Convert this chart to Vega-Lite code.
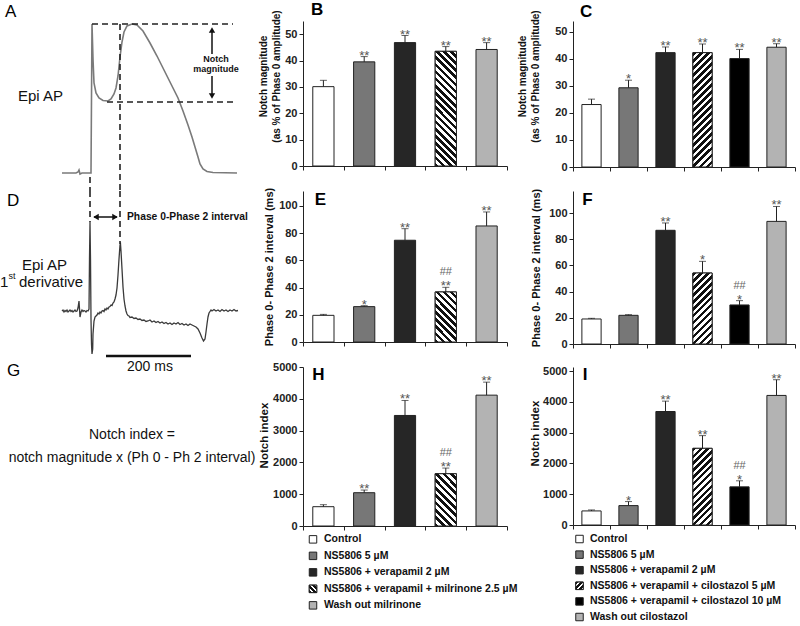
{
"$schema":"https://vega.github.io/schema/vega-lite/v6.json",
"padding":{"left":0,"top":1,"right":0,"bottom":0},
"bounds":"flush",
"align":"each",
"columns":3,
"spacing":{"row":0,"column":66},
"config":{"view":{"stroke":null},"font":"Liberation Sans",
 "axis":{"grid":false,"domainColor":"#222","tickColor":"#222","labelColor":"#222","titleColor":"#111"},
 "axisY":{"tickSize":4,"labelFontSize":11,"labelFontWeight":"bold","labelPadding":2,"titleFontWeight":"bold","titleLineHeight":13},
 "axisX":{"tickSize":4}},
"datasets":{
 "ap":[{"s":-29,"v":-85},{"s":-15,"v":-85},{"s":-13,"v":-84.2},{"s":-12,"v":-82.6},{"s":-11,"v":-85.8},{"s":-9,"v":-85},{"s":-1,"v":-85},{"s":0,"v":-85},{"s":1,"v":34.2},{"s":2,"v":6.2},{"s":3,"v":-13},{"s":5,"v":-21},{"s":8,"v":-25},{"s":12,"v":-27},{"s":17,"v":-27.4},{"s":20,"v":-25.8},{"s":23,"v":-21.8},{"s":25,"v":-17},{"s":27,"v":-7.4},{"s":29,"v":7.8},{"s":31,"v":19.8},{"s":33,"v":27.8},{"s":36,"v":32.6},{"s":41,"v":34.2},{"s":46,"v":33.4},{"s":52,"v":28.6},{"s":59,"v":19},{"s":66,"v":8.6},{"s":73,"v":-2.6},{"s":80,"v":-13.8},{"s":87,"v":-25},{"s":92,"v":-35.4},{"s":97,"v":-46.6},{"s":101,"v":-56.2},{"s":104,"v":-64.2},{"s":107,"v":-72.2},{"s":109,"v":-77.8},{"s":112,"v":-81.8},{"s":116,"v":-83.8},{"s":122,"v":-84.6},{"s":146,"v":-85}],
 "dvdt":[{"s":-29,"v":0},{"s":-28,"v":1},{"s":-27,"v":-1},{"s":-26,"v":0.5},{"s":-25,"v":-0.5},{"s":-24,"v":1},{"s":-23,"v":-1},{"s":-22,"v":0},{"s":-21,"v":1},{"s":-20,"v":-0.5},{"s":-19,"v":0.5},{"s":-18,"v":-1},{"s":-17,"v":0},{"s":-16,"v":1},{"s":-15,"v":-0.5},{"s":-14,"v":0},{"s":-13,"v":3},{"s":-12,"v":10},{"s":-11,"v":-6},{"s":-10,"v":-1},{"s":-9,"v":1},{"s":-8,"v":-0.5},{"s":-7,"v":0.5},{"s":-6,"v":0},{"s":-5,"v":-1},{"s":-4,"v":0.5},{"s":-3,"v":0},{"s":-2,"v":2},{"s":-1.5,"v":52},{"s":-1,"v":89},{"s":-0.5,"v":52},{"s":0,"v":-8},{"s":0.5,"v":-33},{"s":1,"v":-43},{"s":1.7,"v":-38},{"s":2,"v":-23},{"s":3,"v":-10},{"s":4,"v":-6},{"s":5,"v":-5},{"s":6,"v":-4},{"s":7,"v":-2},{"s":8,"v":-3},{"s":9,"v":-1},{"s":10,"v":-2},{"s":11,"v":0},{"s":12,"v":0.5},{"s":13,"v":-0.5},{"s":14,"v":2},{"s":15,"v":1},{"s":16,"v":3},{"s":17,"v":2},{"s":18,"v":4},{"s":19,"v":4.5},{"s":20,"v":6},{"s":21,"v":5.5},{"s":22,"v":8},{"s":23,"v":9},{"s":24,"v":12},{"s":25,"v":16},{"s":26,"v":23},{"s":27,"v":36},{"s":28,"v":52},{"s":29,"v":66},{"s":29.5,"v":67},{"s":30,"v":60},{"s":31,"v":42},{"s":32,"v":24},{"s":33,"v":12},{"s":34,"v":5},{"s":35,"v":0},{"s":36,"v":-3},{"s":37,"v":-4.5},{"s":38,"v":-5},{"s":39,"v":-6.5},{"s":41,"v":-6},{"s":43,"v":-7.5},{"s":45,"v":-7},{"s":47,"v":-8.5},{"s":49,"v":-8},{"s":51,"v":-9.5},{"s":53,"v":-9},{"s":55,"v":-10.5},{"s":57,"v":-10},{"s":59,"v":-9},{"s":61,"v":-11},{"s":63,"v":-10},{"s":65,"v":-11.5},{"s":67,"v":-10.5},{"s":69,"v":-12},{"s":71,"v":-11},{"s":73,"v":-12.5},{"s":75,"v":-11.5},{"s":77,"v":-13},{"s":79,"v":-12},{"s":81,"v":-13.5},{"s":83,"v":-12},{"s":85,"v":-13},{"s":87,"v":-11.5},{"s":89,"v":-13.5},{"s":91,"v":-12.5},{"s":93,"v":-14},{"s":95,"v":-13},{"s":97,"v":-14.5},{"s":99,"v":-13},{"s":101,"v":-14},{"s":103,"v":-15},{"s":105,"v":-16},{"s":107,"v":-18},{"s":109,"v":-22},{"s":111,"v":-27},{"s":112.5,"v":-30},{"s":114,"v":-28},{"s":115,"v":-21},{"s":116,"v":-13},{"s":117,"v":-6},{"s":118,"v":-2},{"s":119,"v":-0.5},{"s":120,"v":1},{"s":121,"v":0},{"s":123,"v":1.5},{"s":125,"v":0},{"s":127,"v":1},{"s":129,"v":-0.5},{"s":131,"v":1.5},{"s":133,"v":0},{"s":135,"v":1},{"s":137,"v":-0.5},{"s":139,"v":1},{"s":141,"v":0},{"s":143,"v":1.5},{"s":145,"v":0},{"s":147,"v":0.5}]
},
"concat":[
  {"width":237,"height":170,
   "encoding":{"x":{"field":"s","type":"quantitative","scale":{"domain":[-91,146],"nice":false,"zero":false},"axis":null},
               "y":{"field":"v","type":"quantitative","scale":{"domain":[-99.4,36.6],"nice":false,"zero":false},"axis":null}},
   "layer":[
    {"data":{"name":"ap"},"mark":{"type":"line","color":"#7a7a7a","strokeWidth":1.6}},
    {"data":{"values":[{"s":1,"v":34.2,"s2":142,"v2":34.2},{"s":16,"v":-28.2,"s2":142,"v2":-28.2},{"s":29,"v":34.2,"s2":29,"v2":-99.4},{"s":-1,"v":-88.2,"s2":-1,"v2":-99.4}]},
     "mark":{"type":"rule","color":"#222","strokeWidth":1.6,"strokeDash":[6,4]},
     "encoding":{"x2":{"field":"s2"},"y2":{"field":"v2"}}},
    {"data":{"values":[{"s":121,"v":10.2,"s2":121,"v2":29.4},{"s":121,"v":-7.4,"s2":121,"v2":-23.4}]},
     "mark":{"type":"rule","color":"#111","strokeWidth":1.5},
     "encoding":{"x2":{"field":"s2"},"y2":{"field":"v2"}}},
    {"data":{"values":[{"s":121,"v":29.4,"dir":"up"},{"s":121,"v":-23.4,"dir":"down"}]},
     "mark":{"type":"point","filled":true,"size":40,"opacity":1,"color":"#111"},
     "encoding":{"shape":{"field":"dir","type":"nominal","scale":{"domain":["up","down","left","right"],"range":["triangle-up","triangle-down","triangle-left","triangle-right"]},"legend":null}}},
    {"data":{"values":[{"s":-86,"v":44.2,"txt":"A"}]},
     "mark":{"type":"text","align":"left","baseline":"middle","fontSize":17,"color":"#000"},
     "encoding":{"text":{"field":"txt"}}},
    {"data":{"values":[{"s":-73,"v":-23.4,"txt":"Epi AP"}]},
     "mark":{"type":"text","align":"left","baseline":"middle","fontSize":15,"color":"#111"},
     "encoding":{"text":{"field":"txt"}}},
    {"data":{"values":[{"s":125,"v":6.2,"txt":"Notch"},{"s":125,"v":-1.8,"txt":"magnitude"}]},
     "mark":{"type":"text","align":"center","baseline":"middle","fontSize":9,"fontWeight":"bold","color":"#111"},
     "encoding":{"text":{"field":"txt"}}}
   ]},
  {"width":204,"height":145,
   "data":{"values":[
    {"cond":"Control","mean":30.1,"hi":32.5,"sig":"","hash":""},
    {"cond":"NS5806 5 µM","mean":39.5,"hi":41.5,"sig":"**","hash":""},
    {"cond":"NS5806 + verapamil 2 µM","mean":46.8,"hi":49.5,"sig":"**","hash":""},
    {"cond":"NS5806 + verapamil + milrinone 2.5 µM","mean":43.5,"hi":45.3,"sig":"**","hash":""},
    {"cond":"Wash out milrinone","mean":44.2,"hi":46.8,"sig":"**","hash":""}]},
   "encoding":{"x":{"field":"cond","type":"nominal","sort":null,"scale":{"domain":["Control","NS5806 5 µM","NS5806 + verapamil 2 µM","NS5806 + verapamil + milrinone 2.5 µM","Wash out milrinone"],"paddingInner":0,"paddingOuter":0},"axis":{"labels":false,"title":null,"tickBand":"extent"}},
     "y":{"field":"mean","type":"quantitative","scale":{"domain":[0,55],"nice":false},"axis":{"values":[0,10,20,30,40,50],"title":["Notch magnitude","(as % of Phase 0 amplitude)"],"titleFontSize":10,"titlePadding":3,"titleY":55}}},
   "layer":[
    {"mark":{"type":"bar","width":{"band":0.52},"stroke":"#222","strokeWidth":1},
     "encoding":{"fill":{"field":"cond","type":"nominal","legend":null,"scale":{"domain":["Control","NS5806 5 µM","NS5806 + verapamil 2 µM","NS5806 + verapamil + milrinone 2.5 µM","Wash out milrinone","NS5806 + verapamil + cilostazol 5 µM","NS5806 + verapamil + cilostazol 10 µM","Wash out cilostazol"],"range":["#ffffff","#777777","#262626","#ffffff","#b3b3b3","#ffffff","#000000","#b3b3b3"]}}}},
    {"transform":[{"filter":{"field":"cond","equal":"NS5806 + verapamil + milrinone 2.5 µM"}}],
     "mark":{"type":"bar","width":{"band":0.52},"stroke":"#222","strokeWidth":1,
      "fill":{"gradient":"linear","x1":0,"y1":1,"x2":0.2126,"y2":-0.1461,"stops":[{"offset":0,"color":"#111"},{"offset":0.0263,"color":"#111"},{"offset":0.0263,"color":"#fff"},{"offset":0.0526,"color":"#fff"},{"offset":0.0526,"color":"#111"},{"offset":0.0789,"color":"#111"},{"offset":0.0789,"color":"#fff"},{"offset":0.1053,"color":"#fff"},{"offset":0.1053,"color":"#111"},{"offset":0.1316,"color":"#111"},{"offset":0.1316,"color":"#fff"},{"offset":0.1579,"color":"#fff"},{"offset":0.1579,"color":"#111"},{"offset":0.1842,"color":"#111"},{"offset":0.1842,"color":"#fff"},{"offset":0.2105,"color":"#fff"},{"offset":0.2105,"color":"#111"},{"offset":0.2368,"color":"#111"},{"offset":0.2368,"color":"#fff"},{"offset":0.2632,"color":"#fff"},{"offset":0.2632,"color":"#111"},{"offset":0.2895,"color":"#111"},{"offset":0.2895,"color":"#fff"},{"offset":0.3158,"color":"#fff"},{"offset":0.3158,"color":"#111"},{"offset":0.3421,"color":"#111"},{"offset":0.3421,"color":"#fff"},{"offset":0.3684,"color":"#fff"},{"offset":0.3684,"color":"#111"},{"offset":0.3947,"color":"#111"},{"offset":0.3947,"color":"#fff"},{"offset":0.4211,"color":"#fff"},{"offset":0.4211,"color":"#111"},{"offset":0.4474,"color":"#111"},{"offset":0.4474,"color":"#fff"},{"offset":0.4737,"color":"#fff"},{"offset":0.4737,"color":"#111"},{"offset":0.5,"color":"#111"},{"offset":0.5,"color":"#fff"},{"offset":0.5263,"color":"#fff"},{"offset":0.5263,"color":"#111"},{"offset":0.5526,"color":"#111"},{"offset":0.5526,"color":"#fff"},{"offset":0.5789,"color":"#fff"},{"offset":0.5789,"color":"#111"},{"offset":0.6053,"color":"#111"},{"offset":0.6053,"color":"#fff"},{"offset":0.6316,"color":"#fff"},{"offset":0.6316,"color":"#111"},{"offset":0.6579,"color":"#111"},{"offset":0.6579,"color":"#fff"},{"offset":0.6842,"color":"#fff"},{"offset":0.6842,"color":"#111"},{"offset":0.7105,"color":"#111"},{"offset":0.7105,"color":"#fff"},{"offset":0.7368,"color":"#fff"},{"offset":0.7368,"color":"#111"},{"offset":0.7632,"color":"#111"},{"offset":0.7632,"color":"#fff"},{"offset":0.7895,"color":"#fff"},{"offset":0.7895,"color":"#111"},{"offset":0.8158,"color":"#111"},{"offset":0.8158,"color":"#fff"},{"offset":0.8421,"color":"#fff"},{"offset":0.8421,"color":"#111"},{"offset":0.8684,"color":"#111"},{"offset":0.8684,"color":"#fff"},{"offset":0.8947,"color":"#fff"},{"offset":0.8947,"color":"#111"},{"offset":0.9211,"color":"#111"},{"offset":0.9211,"color":"#fff"},{"offset":0.9474,"color":"#fff"},{"offset":0.9474,"color":"#111"},{"offset":0.9737,"color":"#111"},{"offset":0.9737,"color":"#fff"},{"offset":1,"color":"#fff"}]}}},
    {"mark":{"type":"rule","color":"#222","strokeWidth":1},"encoding":{"y2":{"field":"hi"}}},
    {"mark":{"type":"tick","orient":"horizontal","size":7,"thickness":1,"color":"#222"},"encoding":{"y":{"field":"hi","type":"quantitative"}}},
    {"mark":{"type":"text","baseline":"alphabetic","dy":3,"fontSize":13,"color":"#555"},"encoding":{"y":{"field":"hi","type":"quantitative"},"text":{"field":"sig"}}},
    {"data":{"values":[{"letter":"B","cond":"Control","mean":59.1}]},"mark":{"type":"text","align":"left","baseline":"middle","dx":-12.4,"fontSize":17,"fontWeight":"bold","color":"#000"},
     "encoding":{"text":{"field":"letter"}}}
   ]},
  {"width":222,"height":146,
   "data":{"values":[
    {"cond":"Control","mean":23.1,"hi":25.1,"sig":"","hash":""},
    {"cond":"NS5806 5 µM","mean":29.3,"hi":32.1,"sig":"*","hash":""},
    {"cond":"NS5806 + verapamil 2 µM","mean":42.3,"hi":44.4,"sig":"**","hash":""},
    {"cond":"NS5806 + verapamil + cilostazol 5 µM","mean":42.3,"hi":45.5,"sig":"**","hash":""},
    {"cond":"NS5806 + verapamil + cilostazol 10 µM","mean":40.1,"hi":43.5,"sig":"**","hash":""},
    {"cond":"Wash out cilostazol","mean":44.3,"hi":45.6,"sig":"**","hash":""}]},
   "encoding":{"x":{"field":"cond","type":"nominal","sort":null,"scale":{"domain":["Control","NS5806 5 µM","NS5806 + verapamil 2 µM","NS5806 + verapamil + cilostazol 5 µM","NS5806 + verapamil + cilostazol 10 µM","Wash out cilostazol"],"paddingInner":0,"paddingOuter":0},"axis":{"labels":false,"title":null,"tickBand":"extent"}},
     "y":{"field":"mean","type":"quantitative","scale":{"domain":[0,54],"nice":false},"axis":{"values":[0,10,20,30,40,50],"title":["Notch magnitude","(as % of Phase 0 amplitude)"],"titleFontSize":10,"titlePadding":14,"titleY":55}}},
   "layer":[
    {"mark":{"type":"bar","width":{"band":0.52},"stroke":"#222","strokeWidth":1},
     "encoding":{"fill":{"field":"cond","type":"nominal","legend":null,"scale":{"domain":["Control","NS5806 5 µM","NS5806 + verapamil 2 µM","NS5806 + verapamil + milrinone 2.5 µM","Wash out milrinone","NS5806 + verapamil + cilostazol 5 µM","NS5806 + verapamil + cilostazol 10 µM","Wash out cilostazol"],"range":["#ffffff","#6e6e6e","#262626","#ffffff","#b3b3b3","#ffffff","#000000","#b3b3b3"]}}}},
    {"transform":[{"filter":{"field":"cond","equal":"NS5806 + verapamil + cilostazol 5 µM"}}],
     "mark":{"type":"bar","width":{"band":0.52},"stroke":"#222","strokeWidth":1,
      "fill":{"gradient":"linear","x1":0,"y1":0,"x2":0.191,"y2":1.1358,"stops":[{"offset":0,"color":"#111"},{"offset":0.0263,"color":"#111"},{"offset":0.0263,"color":"#fff"},{"offset":0.0526,"color":"#fff"},{"offset":0.0526,"color":"#111"},{"offset":0.0789,"color":"#111"},{"offset":0.0789,"color":"#fff"},{"offset":0.1053,"color":"#fff"},{"offset":0.1053,"color":"#111"},{"offset":0.1316,"color":"#111"},{"offset":0.1316,"color":"#fff"},{"offset":0.1579,"color":"#fff"},{"offset":0.1579,"color":"#111"},{"offset":0.1842,"color":"#111"},{"offset":0.1842,"color":"#fff"},{"offset":0.2105,"color":"#fff"},{"offset":0.2105,"color":"#111"},{"offset":0.2368,"color":"#111"},{"offset":0.2368,"color":"#fff"},{"offset":0.2632,"color":"#fff"},{"offset":0.2632,"color":"#111"},{"offset":0.2895,"color":"#111"},{"offset":0.2895,"color":"#fff"},{"offset":0.3158,"color":"#fff"},{"offset":0.3158,"color":"#111"},{"offset":0.3421,"color":"#111"},{"offset":0.3421,"color":"#fff"},{"offset":0.3684,"color":"#fff"},{"offset":0.3684,"color":"#111"},{"offset":0.3947,"color":"#111"},{"offset":0.3947,"color":"#fff"},{"offset":0.4211,"color":"#fff"},{"offset":0.4211,"color":"#111"},{"offset":0.4474,"color":"#111"},{"offset":0.4474,"color":"#fff"},{"offset":0.4737,"color":"#fff"},{"offset":0.4737,"color":"#111"},{"offset":0.5,"color":"#111"},{"offset":0.5,"color":"#fff"},{"offset":0.5263,"color":"#fff"},{"offset":0.5263,"color":"#111"},{"offset":0.5526,"color":"#111"},{"offset":0.5526,"color":"#fff"},{"offset":0.5789,"color":"#fff"},{"offset":0.5789,"color":"#111"},{"offset":0.6053,"color":"#111"},{"offset":0.6053,"color":"#fff"},{"offset":0.6316,"color":"#fff"},{"offset":0.6316,"color":"#111"},{"offset":0.6579,"color":"#111"},{"offset":0.6579,"color":"#fff"},{"offset":0.6842,"color":"#fff"},{"offset":0.6842,"color":"#111"},{"offset":0.7105,"color":"#111"},{"offset":0.7105,"color":"#fff"},{"offset":0.7368,"color":"#fff"},{"offset":0.7368,"color":"#111"},{"offset":0.7632,"color":"#111"},{"offset":0.7632,"color":"#fff"},{"offset":0.7895,"color":"#fff"},{"offset":0.7895,"color":"#111"},{"offset":0.8158,"color":"#111"},{"offset":0.8158,"color":"#fff"},{"offset":0.8421,"color":"#fff"},{"offset":0.8421,"color":"#111"},{"offset":0.8684,"color":"#111"},{"offset":0.8684,"color":"#fff"},{"offset":0.8947,"color":"#fff"},{"offset":0.8947,"color":"#111"},{"offset":0.9211,"color":"#111"},{"offset":0.9211,"color":"#fff"},{"offset":0.9474,"color":"#fff"},{"offset":0.9474,"color":"#111"},{"offset":0.9737,"color":"#111"},{"offset":0.9737,"color":"#fff"},{"offset":1,"color":"#fff"}]}}},
    {"mark":{"type":"rule","color":"#222","strokeWidth":1},"encoding":{"y2":{"field":"hi"}}},
    {"mark":{"type":"tick","orient":"horizontal","size":7,"thickness":1,"color":"#222"},"encoding":{"y":{"field":"hi","type":"quantitative"}}},
    {"mark":{"type":"text","baseline":"alphabetic","dy":3,"fontSize":13,"color":"#555"},"encoding":{"y":{"field":"hi","type":"quantitative"},"text":{"field":"sig"}}},
    {"data":{"values":[{"letter":"C","cond":"Control","mean":57.5}]},"mark":{"type":"text","align":"left","baseline":"middle","dx":-11.5,"fontSize":17,"fontWeight":"bold","color":"#000"},
     "encoding":{"text":{"field":"letter"}}}
   ]},
  {"width":237,"height":176,
   "encoding":{"x":{"field":"s","type":"quantitative","scale":{"domain":[-91,146],"nice":false,"zero":false},"axis":null},
               "y":{"field":"v","type":"quantitative","scale":{"domain":[-56,120],"nice":false,"zero":false},"axis":null}},
   "layer":[
    {"data":{"name":"dvdt"},"mark":{"type":"line","color":"#3a3a3a","strokeWidth":1.3}},
    {"data":{"values":[{"s":-1,"v":120,"s2":-1,"v2":89},{"s":29,"v":120,"s2":29,"v2":67}]},
     "mark":{"type":"rule","color":"#222","strokeWidth":1.6,"strokeDash":[6,4]},
     "encoding":{"x2":{"field":"s2"},"y2":{"field":"v2"}}},
    {"data":{"values":[{"s":3,"v":94,"s2":26,"v2":94}]},
     "mark":{"type":"rule","color":"#111","strokeWidth":1.5},
     "encoding":{"x2":{"field":"s2"},"y2":{"field":"v2"}}},
    {"data":{"values":[{"s":5,"v":94,"dir":"left"},{"s":24,"v":94,"dir":"right"}]},
     "mark":{"type":"point","filled":true,"size":40,"opacity":1,"color":"#111"},
     "encoding":{"shape":{"field":"dir","type":"nominal","scale":{"domain":["up","down","left","right"],"range":["triangle-up","triangle-down","triangle-left","triangle-right"]},"legend":null}}},
    {"data":{"values":[{"s":15,"v":-45,"s2":100,"v2":-45}]},
     "mark":{"type":"rule","color":"#111","strokeWidth":2.5},
     "encoding":{"x2":{"field":"s2"},"y2":{"field":"v2"}}},
    {"data":{"values":[{"s":-84,"v":110,"txt":"D"},{"s":-84,"v":-60,"txt":"G"}]},
     "mark":{"type":"text","align":"left","baseline":"middle","fontSize":17,"color":"#000"},
     "encoding":{"text":{"field":"txt"}}},
    {"data":{"values":[{"s":-69,"v":46.5,"txt":"Epi AP"},{"s":-91,"v":29,"txt":"1"},{"s":-72,"v":29,"txt":"derivative"}]},
     "mark":{"type":"text","align":"left","baseline":"middle","fontSize":15,"color":"#111"},
     "encoding":{"text":{"field":"txt"}}},
    {"data":{"values":[{"s":-82.5,"v":35,"txt":"st"}]},
     "mark":{"type":"text","align":"left","baseline":"middle","fontSize":9,"color":"#111"},
     "encoding":{"text":{"field":"txt"}}},
    {"data":{"values":[{"s":36,"v":94,"txt":"Phase 0-Phase 2 interval"}]},
     "mark":{"type":"text","align":"left","baseline":"middle","fontSize":10.3,"fontWeight":"bold","color":"#111"},
     "encoding":{"text":{"field":"txt"}}},
    {"data":{"values":[{"s":59,"v":-56,"txt":"200 ms"}]},
     "mark":{"type":"text","align":"center","baseline":"middle","fontSize":14,"color":"#111"},
     "encoding":{"text":{"field":"txt"}}}
   ]},
  {"width":204,"height":151,
   "data":{"values":[
    {"cond":"Control","mean":19.6,"hi":20.3,"sig":"","hash":""},
    {"cond":"NS5806 5 µM","mean":26,"hi":26.7,"sig":"*","hash":""},
    {"cond":"NS5806 + verapamil 2 µM","mean":74.8,"hi":83.3,"sig":"**","hash":""},
    {"cond":"NS5806 + verapamil + milrinone 2.5 µM","mean":36.8,"hi":40.2,"sig":"**","hash":"##"},
    {"cond":"Wash out milrinone","mean":85.3,"hi":95.6,"sig":"**","hash":""}]},
   "encoding":{"x":{"field":"cond","type":"nominal","sort":null,"scale":{"domain":["Control","NS5806 5 µM","NS5806 + verapamil 2 µM","NS5806 + verapamil + milrinone 2.5 µM","Wash out milrinone"],"paddingInner":0,"paddingOuter":0},"axis":{"labels":false,"title":null,"tickBand":"extent"}},
     "y":{"field":"mean","type":"quantitative","scale":{"domain":[0,111],"nice":false},"axis":{"values":[0,20,40,60,80,100],"title":"Phase 0- Phase 2 interval (ms)","titleFontSize":11,"titlePadding":4}}},
   "layer":[
    {"mark":{"type":"bar","width":{"band":0.52},"stroke":"#222","strokeWidth":1},
     "encoding":{"fill":{"field":"cond","type":"nominal","legend":null,"scale":{"domain":["Control","NS5806 5 µM","NS5806 + verapamil 2 µM","NS5806 + verapamil + milrinone 2.5 µM","Wash out milrinone","NS5806 + verapamil + cilostazol 5 µM","NS5806 + verapamil + cilostazol 10 µM","Wash out cilostazol"],"range":["#ffffff","#777777","#262626","#ffffff","#b3b3b3","#ffffff","#000000","#b3b3b3"]}}}},
    {"transform":[{"filter":{"field":"cond","equal":"NS5806 + verapamil + milrinone 2.5 µM"}}],
     "mark":{"type":"bar","width":{"band":0.52},"stroke":"#222","strokeWidth":1,
      "fill":{"gradient":"linear","x1":0,"y1":1,"x2":0.5142,"y2":-0.207,"stops":[{"offset":0,"color":"#111"},{"offset":0.05,"color":"#111"},{"offset":0.05,"color":"#fff"},{"offset":0.1,"color":"#fff"},{"offset":0.1,"color":"#111"},{"offset":0.15,"color":"#111"},{"offset":0.15,"color":"#fff"},{"offset":0.2,"color":"#fff"},{"offset":0.2,"color":"#111"},{"offset":0.25,"color":"#111"},{"offset":0.25,"color":"#fff"},{"offset":0.3,"color":"#fff"},{"offset":0.3,"color":"#111"},{"offset":0.35,"color":"#111"},{"offset":0.35,"color":"#fff"},{"offset":0.4,"color":"#fff"},{"offset":0.4,"color":"#111"},{"offset":0.45,"color":"#111"},{"offset":0.45,"color":"#fff"},{"offset":0.5,"color":"#fff"},{"offset":0.5,"color":"#111"},{"offset":0.55,"color":"#111"},{"offset":0.55,"color":"#fff"},{"offset":0.6,"color":"#fff"},{"offset":0.6,"color":"#111"},{"offset":0.65,"color":"#111"},{"offset":0.65,"color":"#fff"},{"offset":0.7,"color":"#fff"},{"offset":0.7,"color":"#111"},{"offset":0.75,"color":"#111"},{"offset":0.75,"color":"#fff"},{"offset":0.8,"color":"#fff"},{"offset":0.8,"color":"#111"},{"offset":0.85,"color":"#111"},{"offset":0.85,"color":"#fff"},{"offset":0.9,"color":"#fff"},{"offset":0.9,"color":"#111"},{"offset":0.95,"color":"#111"},{"offset":0.95,"color":"#fff"},{"offset":1,"color":"#fff"}]}}},
    {"mark":{"type":"rule","color":"#222","strokeWidth":1},"encoding":{"y2":{"field":"hi"}}},
    {"mark":{"type":"tick","orient":"horizontal","size":7,"thickness":1,"color":"#222"},"encoding":{"y":{"field":"hi","type":"quantitative"}}},
    {"mark":{"type":"text","baseline":"alphabetic","dy":3,"fontSize":13,"color":"#555"},"encoding":{"y":{"field":"hi","type":"quantitative"},"text":{"field":"sig"}}},
    {"mark":{"type":"text","baseline":"alphabetic","dy":-12,"fontSize":11,"color":"#666"},"encoding":{"y":{"field":"hi","type":"quantitative"},"text":{"field":"hash"}}},
    {"data":{"values":[{"letter":"E","cond":"Control","mean":104.4}]},"mark":{"type":"text","baseline":"middle","dx":-3,"fontSize":17,"fontWeight":"bold","color":"#000"},
     "encoding":{"text":{"field":"letter"}}}
   ]},
  {"width":222,"height":153,
   "data":{"values":[
    {"cond":"Control","mean":19.1,"hi":19.6,"sig":"","hash":""},
    {"cond":"NS5806 5 µM","mean":21.9,"hi":22.4,"sig":"","hash":""},
    {"cond":"NS5806 + verapamil 2 µM","mean":86.8,"hi":92.4,"sig":"**","hash":""},
    {"cond":"NS5806 + verapamil + cilostazol 5 µM","mean":54.2,"hi":63.1,"sig":"*","hash":""},
    {"cond":"NS5806 + verapamil + cilostazol 10 µM","mean":29.8,"hi":33.1,"sig":"*","hash":"##"},
    {"cond":"Wash out cilostazol","mean":93.6,"hi":105,"sig":"**","hash":""}]},
   "encoding":{"x":{"field":"cond","type":"nominal","sort":null,"scale":{"domain":["Control","NS5806 5 µM","NS5806 + verapamil 2 µM","NS5806 + verapamil + cilostazol 5 µM","NS5806 + verapamil + cilostazol 10 µM","Wash out cilostazol"],"paddingInner":0,"paddingOuter":0},"axis":{"labels":false,"title":null,"tickBand":"extent"}},
     "y":{"field":"mean","type":"quantitative","scale":{"domain":[0,116.8],"nice":false},"axis":{"values":[0,20,40,60,80,100],"title":"Phase 0- Phase 2 interval (ms)","titleFontSize":11,"titlePadding":7}}},
   "layer":[
    {"mark":{"type":"bar","width":{"band":0.52},"stroke":"#222","strokeWidth":1},
     "encoding":{"fill":{"field":"cond","type":"nominal","legend":null,"scale":{"domain":["Control","NS5806 5 µM","NS5806 + verapamil 2 µM","NS5806 + verapamil + milrinone 2.5 µM","Wash out milrinone","NS5806 + verapamil + cilostazol 5 µM","NS5806 + verapamil + cilostazol 10 µM","Wash out cilostazol"],"range":["#ffffff","#6e6e6e","#262626","#ffffff","#b3b3b3","#ffffff","#000000","#b3b3b3"]}}}},
    {"transform":[{"filter":{"field":"cond","equal":"NS5806 + verapamil + cilostazol 5 µM"}}],
     "mark":{"type":"bar","width":{"band":0.52},"stroke":"#222","strokeWidth":1,
      "fill":{"gradient":"linear","x1":0,"y1":0,"x2":0.3207,"y2":1.1836,"stops":[{"offset":0,"color":"#111"},{"offset":0.0385,"color":"#111"},{"offset":0.0385,"color":"#fff"},{"offset":0.0769,"color":"#fff"},{"offset":0.0769,"color":"#111"},{"offset":0.1154,"color":"#111"},{"offset":0.1154,"color":"#fff"},{"offset":0.1538,"color":"#fff"},{"offset":0.1538,"color":"#111"},{"offset":0.1923,"color":"#111"},{"offset":0.1923,"color":"#fff"},{"offset":0.2308,"color":"#fff"},{"offset":0.2308,"color":"#111"},{"offset":0.2692,"color":"#111"},{"offset":0.2692,"color":"#fff"},{"offset":0.3077,"color":"#fff"},{"offset":0.3077,"color":"#111"},{"offset":0.3462,"color":"#111"},{"offset":0.3462,"color":"#fff"},{"offset":0.3846,"color":"#fff"},{"offset":0.3846,"color":"#111"},{"offset":0.4231,"color":"#111"},{"offset":0.4231,"color":"#fff"},{"offset":0.4615,"color":"#fff"},{"offset":0.4615,"color":"#111"},{"offset":0.5,"color":"#111"},{"offset":0.5,"color":"#fff"},{"offset":0.5385,"color":"#fff"},{"offset":0.5385,"color":"#111"},{"offset":0.5769,"color":"#111"},{"offset":0.5769,"color":"#fff"},{"offset":0.6154,"color":"#fff"},{"offset":0.6154,"color":"#111"},{"offset":0.6538,"color":"#111"},{"offset":0.6538,"color":"#fff"},{"offset":0.6923,"color":"#fff"},{"offset":0.6923,"color":"#111"},{"offset":0.7308,"color":"#111"},{"offset":0.7308,"color":"#fff"},{"offset":0.7692,"color":"#fff"},{"offset":0.7692,"color":"#111"},{"offset":0.8077,"color":"#111"},{"offset":0.8077,"color":"#fff"},{"offset":0.8462,"color":"#fff"},{"offset":0.8462,"color":"#111"},{"offset":0.8846,"color":"#111"},{"offset":0.8846,"color":"#fff"},{"offset":0.9231,"color":"#fff"},{"offset":0.9231,"color":"#111"},{"offset":0.9615,"color":"#111"},{"offset":0.9615,"color":"#fff"},{"offset":1,"color":"#fff"}]}}},
    {"mark":{"type":"rule","color":"#222","strokeWidth":1},"encoding":{"y2":{"field":"hi"}}},
    {"mark":{"type":"tick","orient":"horizontal","size":7,"thickness":1,"color":"#222"},"encoding":{"y":{"field":"hi","type":"quantitative"}}},
    {"mark":{"type":"text","baseline":"alphabetic","dy":3,"fontSize":13,"color":"#555"},"encoding":{"y":{"field":"hi","type":"quantitative"},"text":{"field":"sig"}}},
    {"mark":{"type":"text","baseline":"alphabetic","dy":-12,"fontSize":11,"color":"#666"},"encoding":{"y":{"field":"hi","type":"quantitative"},"text":{"field":"hash"}}},
    {"data":{"values":[{"letter":"F","cond":"Control","mean":109.9}]},"mark":{"type":"text","baseline":"middle","dx":-4,"fontSize":17,"fontWeight":"bold","color":"#000"},
     "encoding":{"text":{"field":"letter"}}}
   ]},
  {"width":237,"height":159,
   "data":{"values":[{"t":"Notch index =\nnotch magnitude x (Ph 0 - Ph 2 interval)"}]},
   "mark":{"type":"text","fontSize":14,"color":"#111","dx":13.5,"dy":-12,"baseline":"middle","lineBreak":"\n","lineHeight":23},
   "encoding":{"text":{"field":"t"}}},
  {"width":204,"height":159,
   "data":{"values":[
    {"cond":"Control","mean":607,"hi":670,"sig":"","hash":""},
    {"cond":"NS5806 5 µM","mean":1047,"hi":1131,"sig":"**","hash":""},
    {"cond":"NS5806 + verapamil 2 µM","mean":3476,"hi":3948,"sig":"**","hash":""},
    {"cond":"NS5806 + verapamil + milrinone 2.5 µM","mean":1644,"hi":1822,"sig":"**","hash":"##"},
    {"cond":"Wash out milrinone","mean":4115,"hi":4524,"sig":"**","hash":""}]},
   "encoding":{"x":{"field":"cond","type":"nominal","sort":null,"scale":{"domain":["Control","NS5806 5 µM","NS5806 + verapamil 2 µM","NS5806 + verapamil + milrinone 2.5 µM","Wash out milrinone"],"paddingInner":0,"paddingOuter":0},"axis":{"labels":false,"title":null,"tickBand":"extent"}},
     "y":{"field":"mean","type":"quantitative","scale":{"domain":[0,5000],"nice":false},"axis":{"values":[0,1000,2000,3000,4000,5000],"format":"d","title":"Notch index","titleFontSize":11.5,"titlePadding":3,"titleY":68}}},
   "layer":[
    {"mark":{"type":"bar","width":{"band":0.52},"stroke":"#222","strokeWidth":1},
     "encoding":{"fill":{"field":"cond","type":"nominal","legend":null,"scale":{"domain":["Control","NS5806 5 µM","NS5806 + verapamil 2 µM","NS5806 + verapamil + milrinone 2.5 µM","Wash out milrinone","NS5806 + verapamil + cilostazol 5 µM","NS5806 + verapamil + cilostazol 10 µM","Wash out cilostazol"],"range":["#ffffff","#777777","#262626","#ffffff","#b3b3b3","#ffffff","#000000","#b3b3b3"]}}}},
    {"transform":[{"filter":{"field":"cond","equal":"NS5806 + verapamil + milrinone 2.5 µM"}}],
     "mark":{"type":"bar","width":{"band":0.52},"stroke":"#222","strokeWidth":1,
      "fill":{"gradient":"linear","x1":0,"y1":1,"x2":0.4917,"y2":-0.2071,"stops":[{"offset":0,"color":"#111"},{"offset":0.05,"color":"#111"},{"offset":0.05,"color":"#fff"},{"offset":0.1,"color":"#fff"},{"offset":0.1,"color":"#111"},{"offset":0.15,"color":"#111"},{"offset":0.15,"color":"#fff"},{"offset":0.2,"color":"#fff"},{"offset":0.2,"color":"#111"},{"offset":0.25,"color":"#111"},{"offset":0.25,"color":"#fff"},{"offset":0.3,"color":"#fff"},{"offset":0.3,"color":"#111"},{"offset":0.35,"color":"#111"},{"offset":0.35,"color":"#fff"},{"offset":0.4,"color":"#fff"},{"offset":0.4,"color":"#111"},{"offset":0.45,"color":"#111"},{"offset":0.45,"color":"#fff"},{"offset":0.5,"color":"#fff"},{"offset":0.5,"color":"#111"},{"offset":0.55,"color":"#111"},{"offset":0.55,"color":"#fff"},{"offset":0.6,"color":"#fff"},{"offset":0.6,"color":"#111"},{"offset":0.65,"color":"#111"},{"offset":0.65,"color":"#fff"},{"offset":0.7,"color":"#fff"},{"offset":0.7,"color":"#111"},{"offset":0.75,"color":"#111"},{"offset":0.75,"color":"#fff"},{"offset":0.8,"color":"#fff"},{"offset":0.8,"color":"#111"},{"offset":0.85,"color":"#111"},{"offset":0.85,"color":"#fff"},{"offset":0.9,"color":"#fff"},{"offset":0.9,"color":"#111"},{"offset":0.95,"color":"#111"},{"offset":0.95,"color":"#fff"},{"offset":1,"color":"#fff"}]}}},
    {"mark":{"type":"rule","color":"#222","strokeWidth":1},"encoding":{"y2":{"field":"hi"}}},
    {"mark":{"type":"tick","orient":"horizontal","size":7,"thickness":1,"color":"#222"},"encoding":{"y":{"field":"hi","type":"quantitative"}}},
    {"mark":{"type":"text","baseline":"alphabetic","dy":3,"fontSize":13,"color":"#555"},"encoding":{"y":{"field":"hi","type":"quantitative"},"text":{"field":"sig"}}},
    {"mark":{"type":"text","baseline":"alphabetic","dy":-12,"fontSize":11,"color":"#666"},"encoding":{"y":{"field":"hi","type":"quantitative"},"text":{"field":"hash"}}},
    {"data":{"values":[{"letter":"H","cond":"Control","mean":4748}]},"mark":{"type":"text","baseline":"middle","dx":-5,"fontSize":17,"fontWeight":"bold","color":"#000"},
     "encoding":{"text":{"field":"letter"}}}
   ]},
  {"width":222,"height":158,
   "data":{"values":[
    {"cond":"Control","mean":457,"hi":489,"sig":"","hash":""},
    {"cond":"NS5806 5 µM","mean":630,"hi":761,"sig":"*","hash":""},
    {"cond":"NS5806 + verapamil 2 µM","mean":3685,"hi":4022,"sig":"**","hash":""},
    {"cond":"NS5806 + verapamil + cilostazol 5 µM","mean":2489,"hi":2902,"sig":"**","hash":""},
    {"cond":"NS5806 + verapamil + cilostazol 10 µM","mean":1239,"hi":1435,"sig":"*","hash":"##"},
    {"cond":"Wash out cilostazol","mean":4207,"hi":4717,"sig":"**","hash":""}]},
   "encoding":{"x":{"field":"cond","type":"nominal","sort":null,"scale":{"domain":["Control","NS5806 5 µM","NS5806 + verapamil 2 µM","NS5806 + verapamil + cilostazol 5 µM","NS5806 + verapamil + cilostazol 10 µM","Wash out cilostazol"],"paddingInner":0,"paddingOuter":0},"axis":{"labels":false,"title":null,"tickBand":"extent"}},
     "y":{"field":"mean","type":"quantitative","scale":{"domain":[0,5130],"nice":false},"axis":{"values":[0,1000,2000,3000,4000,5000],"format":"d","title":"Notch index","titleFontSize":11.5,"titlePadding":2,"titleY":66}}},
   "layer":[
    {"mark":{"type":"bar","width":{"band":0.52},"stroke":"#222","strokeWidth":1},
     "encoding":{"fill":{"field":"cond","type":"nominal","legend":null,"scale":{"domain":["Control","NS5806 5 µM","NS5806 + verapamil 2 µM","NS5806 + verapamil + milrinone 2.5 µM","Wash out milrinone","NS5806 + verapamil + cilostazol 5 µM","NS5806 + verapamil + cilostazol 10 µM","Wash out cilostazol"],"range":["#ffffff","#6e6e6e","#262626","#ffffff","#b3b3b3","#ffffff","#000000","#b3b3b3"]}}}},
    {"transform":[{"filter":{"field":"cond","equal":"NS5806 + verapamil + cilostazol 5 µM"}}],
     "mark":{"type":"bar","width":{"band":0.52},"stroke":"#222","strokeWidth":1,
      "fill":{"gradient":"linear","x1":0,"y1":0,"x2":0.2951,"y2":1.1766,"stops":[{"offset":0,"color":"#111"},{"offset":0.0357,"color":"#111"},{"offset":0.0357,"color":"#fff"},{"offset":0.0714,"color":"#fff"},{"offset":0.0714,"color":"#111"},{"offset":0.1071,"color":"#111"},{"offset":0.1071,"color":"#fff"},{"offset":0.1429,"color":"#fff"},{"offset":0.1429,"color":"#111"},{"offset":0.1786,"color":"#111"},{"offset":0.1786,"color":"#fff"},{"offset":0.2143,"color":"#fff"},{"offset":0.2143,"color":"#111"},{"offset":0.25,"color":"#111"},{"offset":0.25,"color":"#fff"},{"offset":0.2857,"color":"#fff"},{"offset":0.2857,"color":"#111"},{"offset":0.3214,"color":"#111"},{"offset":0.3214,"color":"#fff"},{"offset":0.3571,"color":"#fff"},{"offset":0.3571,"color":"#111"},{"offset":0.3929,"color":"#111"},{"offset":0.3929,"color":"#fff"},{"offset":0.4286,"color":"#fff"},{"offset":0.4286,"color":"#111"},{"offset":0.4643,"color":"#111"},{"offset":0.4643,"color":"#fff"},{"offset":0.5,"color":"#fff"},{"offset":0.5,"color":"#111"},{"offset":0.5357,"color":"#111"},{"offset":0.5357,"color":"#fff"},{"offset":0.5714,"color":"#fff"},{"offset":0.5714,"color":"#111"},{"offset":0.6071,"color":"#111"},{"offset":0.6071,"color":"#fff"},{"offset":0.6429,"color":"#fff"},{"offset":0.6429,"color":"#111"},{"offset":0.6786,"color":"#111"},{"offset":0.6786,"color":"#fff"},{"offset":0.7143,"color":"#fff"},{"offset":0.7143,"color":"#111"},{"offset":0.75,"color":"#111"},{"offset":0.75,"color":"#fff"},{"offset":0.7857,"color":"#fff"},{"offset":0.7857,"color":"#111"},{"offset":0.8214,"color":"#111"},{"offset":0.8214,"color":"#fff"},{"offset":0.8571,"color":"#fff"},{"offset":0.8571,"color":"#111"},{"offset":0.8929,"color":"#111"},{"offset":0.8929,"color":"#fff"},{"offset":0.9286,"color":"#fff"},{"offset":0.9286,"color":"#111"},{"offset":0.9643,"color":"#111"},{"offset":0.9643,"color":"#fff"},{"offset":1,"color":"#fff"}]}}},
    {"mark":{"type":"rule","color":"#222","strokeWidth":1},"encoding":{"y2":{"field":"hi"}}},
    {"mark":{"type":"tick","orient":"horizontal","size":7,"thickness":1,"color":"#222"},"encoding":{"y":{"field":"hi","type":"quantitative"}}},
    {"mark":{"type":"text","baseline":"alphabetic","dy":3,"fontSize":13,"color":"#555"},"encoding":{"y":{"field":"hi","type":"quantitative"},"text":{"field":"sig"}}},
    {"mark":{"type":"text","baseline":"alphabetic","dy":-12,"fontSize":11,"color":"#666"},"encoding":{"y":{"field":"hi","type":"quantitative"},"text":{"field":"hash"}}},
    {"data":{"values":[{"letter":"I","cond":"Control","mean":4870}]},"mark":{"type":"text","baseline":"middle","dx":-6.5,"fontSize":17,"fontWeight":"bold","color":"#000"},
     "encoding":{"text":{"field":"letter"}}}
   ]},
  {"width":237,"height":99,
   "data":{"values":[{"t":""}]},
   "mark":{"type":"text"},
   "encoding":{"text":{"field":"t"}}},
  {"width":20,"height":99,
   "data":{"values":[{"label":"Control"},{"label":"NS5806 5 µM"},{"label":"NS5806 + verapamil 2 µM"},{"label":"NS5806 + verapamil + milrinone 2.5 µM"},{"label":"Wash out milrinone"}]},
   "encoding":{"y":{"field":"label","type":"nominal","sort":null,"axis":null,"scale":{"type":"point","padding":1.194,"align":0.405}}},
   "layer":[
    {"mark":{"type":"point","shape":"square","filled":true,"size":56,"opacity":1,"stroke":"#222","strokeWidth":1},
     "encoding":{"fill":{"field":"label","type":"nominal","legend":null,"scale":{"domain":["Control","NS5806 5 µM","NS5806 + verapamil 2 µM","NS5806 + verapamil + milrinone 2.5 µM","Wash out milrinone","NS5806 + verapamil + cilostazol 5 µM","NS5806 + verapamil + cilostazol 10 µM","Wash out cilostazol"],"range":["#ffffff","#777777","#262626","#ffffff","#b3b3b3","#ffffff","#000000","#b3b3b3"]}}}},
    {"transform":[{"filter":{"field":"label","equal":"NS5806 + verapamil + milrinone 2.5 µM"}}],
     "mark":{"type":"point","shape":"square","filled":true,"size":56,"opacity":1,"stroke":"#222","strokeWidth":1,
      "fill":{"gradient":"linear","x1":0,"y1":1,"x2":1,"y2":0,"stops":[{"offset":0,"color":"#111"},{"offset":0.1667,"color":"#111"},{"offset":0.1667,"color":"#fff"},{"offset":0.3333,"color":"#fff"},{"offset":0.3333,"color":"#111"},{"offset":0.5,"color":"#111"},{"offset":0.5,"color":"#fff"},{"offset":0.6667,"color":"#fff"},{"offset":0.6667,"color":"#111"},{"offset":0.8333,"color":"#111"},{"offset":0.8333,"color":"#fff"},{"offset":1,"color":"#fff"}]}}},
    {"mark":{"type":"text","align":"left","baseline":"middle","dx":11,"fontSize":10.5,"fontWeight":"bold","color":"#111"},"encoding":{"text":{"field":"label"}}}
   ]},
  {"width":13,"height":99,
   "data":{"values":[{"label":"Control"},{"label":"NS5806 5 µM"},{"label":"NS5806 + verapamil 2 µM"},{"label":"NS5806 + verapamil + cilostazol 5 µM"},{"label":"NS5806 + verapamil + cilostazol 10 µM"},{"label":"Wash out cilostazol"}]},
   "encoding":{"y":{"field":"label","type":"nominal","sort":null,"axis":null,"scale":{"type":"point","padding":0.673,"align":0.62}}},
   "layer":[
    {"mark":{"type":"point","shape":"square","filled":true,"size":56,"opacity":1,"stroke":"#222","strokeWidth":1},
     "encoding":{"fill":{"field":"label","type":"nominal","legend":null,"scale":{"domain":["Control","NS5806 5 µM","NS5806 + verapamil 2 µM","NS5806 + verapamil + milrinone 2.5 µM","Wash out milrinone","NS5806 + verapamil + cilostazol 5 µM","NS5806 + verapamil + cilostazol 10 µM","Wash out cilostazol"],"range":["#ffffff","#6e6e6e","#262626","#ffffff","#b3b3b3","#ffffff","#000000","#b3b3b3"]}}}},
    {"transform":[{"filter":{"field":"label","equal":"NS5806 + verapamil + cilostazol 5 µM"}}],
     "mark":{"type":"point","shape":"square","filled":true,"size":56,"opacity":1,"stroke":"#222","strokeWidth":1,
      "fill":{"gradient":"linear","x1":0,"y1":0,"x2":1,"y2":1,"stops":[{"offset":0,"color":"#111"},{"offset":0.1667,"color":"#111"},{"offset":0.1667,"color":"#fff"},{"offset":0.3333,"color":"#fff"},{"offset":0.3333,"color":"#111"},{"offset":0.5,"color":"#111"},{"offset":0.5,"color":"#fff"},{"offset":0.6667,"color":"#fff"},{"offset":0.6667,"color":"#111"},{"offset":0.8333,"color":"#111"},{"offset":0.8333,"color":"#fff"},{"offset":1,"color":"#fff"}]}}},
    {"mark":{"type":"text","align":"left","baseline":"middle","dx":10.5,"fontSize":10.5,"fontWeight":"bold","color":"#111"},"encoding":{"text":{"field":"label"}}}
   ]}
]
}
